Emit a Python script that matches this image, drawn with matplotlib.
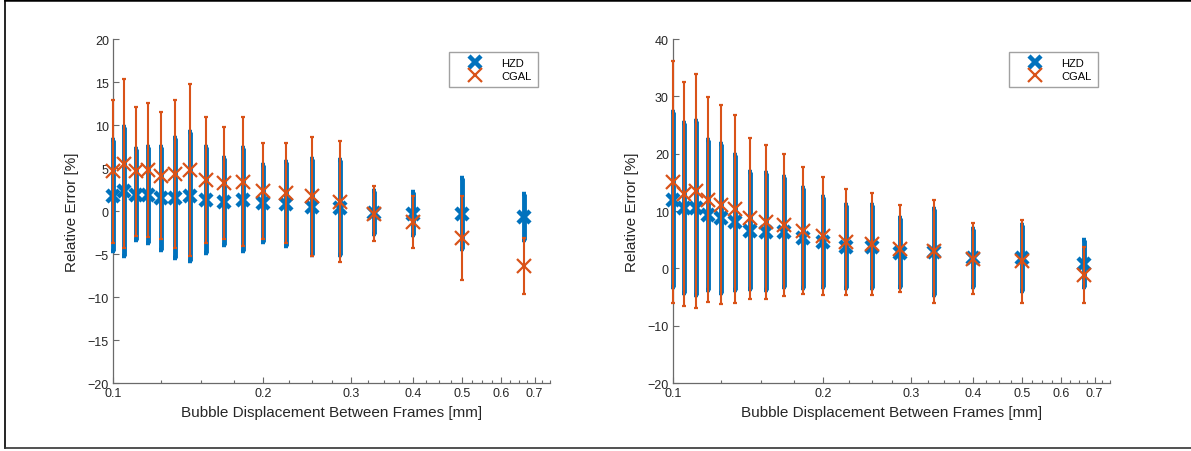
import matplotlib
matplotlib.use("Agg")
import matplotlib.pyplot as plt
from matplotlib.lines import Line2D
from matplotlib.ticker import FixedLocator, NullFormatter
import numpy as np

plt.rcParams['font.family'] = ['Liberation Sans', 'DejaVu Sans']

# bubble displacement between frames [mm]
disp = [0.1, 0.10526, 0.11111, 0.11765, 0.125, 0.13333, 0.14286, 0.15385, 0.16667,
        0.18182, 0.2, 0.22222, 0.25, 0.28571, 0.33333, 0.4, 0.5, 0.66667]

# left panel: mean relative error and spread [%]
hzd_left = [1.8, 2.3, 1.9, 1.9, 1.5, 1.5, 1.7, 1.3, 1.1, 1.3, 0.9, 0.8, 0.5, 0.4, -0.2, -0.3, -0.3, -0.7]
hzd_left_err = [6.4, 7.5, 5.3, 5.6, 6.0, 7.0, 7.5, 6.2, 5.1, 6.0, 4.5, 4.9, 5.6, 5.5, 2.5, 2.5, 4.1, 2.7]
cgal_left = [4.6, 5.5, 4.6, 4.8, 4.1, 4.3, 4.8, 3.6, 3.3, 3.4, 2.3, 2.1, 1.7, 1.1, -0.3, -1.3, -3.1, -6.4]
cgal_left_err = [8.3, 9.8, 7.5, 7.8, 7.4, 8.6, 10.0, 7.3, 6.5, 7.5, 5.6, 5.8, 6.9, 7.0, 3.2, 3.0, 4.9, 3.3]

# right panel
hzd_right = [12.0, 10.5, 10.5, 9.3, 8.7, 8.0, 6.6, 6.4, 6.3, 5.3, 4.6, 3.8, 3.8, 2.7, 2.9, 1.8, 1.8, 0.8]
hzd_right_err = [15.2, 14.8, 15.2, 13.1, 13.0, 11.8, 10.2, 10.2, 9.6, 8.8, 7.9, 7.2, 7.2, 6.0, 7.5, 5.1, 5.8, 4.1]
cgal_right = [15.1, 13.0, 13.5, 12.0, 11.1, 10.3, 8.7, 8.1, 7.6, 6.6, 5.7, 4.6, 4.3, 3.4, 3.0, 1.7, 1.2, -1.2]
cgal_right_err = [21.1, 19.5, 20.4, 17.8, 17.4, 16.4, 14.0, 13.4, 12.4, 11.1, 10.3, 9.3, 8.9, 7.6, 9.0, 6.2, 7.2, 4.9]

xticks = [0.1, 0.2, 0.3, 0.4, 0.5, 0.6, 0.7]
xminor = [0.125, 0.15, 0.175, 0.225, 0.25, 0.275, 0.325, 0.35, 0.375, 0.425, 0.45, 0.475,
          0.525, 0.55, 0.575, 0.625, 0.65, 0.675, 0.725, 0.75]

blue = '#0072BD'
orange = '#D95319'
axcol = '#6a6a6a'
txtcol = '#262626'

fig = plt.figure(figsize=(11.91, 4.52), dpi=100)


def draw_panel(rect, hzd, hzd_err, cgal, cgal_err, ylim, yticks):
    ax = fig.add_axes(rect)
    eb1 = ax.errorbar(disp, hzd, yerr=hzd_err, fmt='x', color=blue, ecolor=blue,
                      elinewidth=3.5, capsize=1.2, capthick=3.5, markersize=9, mew=3.2, zorder=2)
    eb2 = ax.errorbar(disp, cgal, yerr=cgal_err, fmt='x', color=orange, ecolor=orange,
                      elinewidth=1.5, capsize=1.2, capthick=1.5, markersize=10, mew=1.6, zorder=3)
    for eb in (eb1, eb2):
        for art in eb.get_children():
            art.set_clip_on(False)
    ax.set_xscale('log')
    ax.set_xlim(0.1, 0.75)
    ax.set_ylim(*ylim)
    ax.xaxis.set_major_locator(FixedLocator(xticks))
    ax.set_xticklabels([f'{t:g}' for t in xticks])
    ax.xaxis.set_minor_locator(FixedLocator(xminor))
    ax.xaxis.set_minor_formatter(NullFormatter())
    ax.set_yticks(yticks)
    for s in ['top', 'right']:
        ax.spines[s].set_visible(False)
    for s in ['left', 'bottom']:
        ax.spines[s].set_color(axcol)
        ax.spines[s].set_linewidth(0.9)
        ax.spines[s].set_zorder(1)
    ax.tick_params(which='major', direction='in', length=4, width=0.8, color=axcol,
                   labelsize=9, labelcolor=txtcol, pad=3)
    ax.tick_params(which='minor', direction='in', length=2.5, width=0.8, color=axcol)
    ax.set_xlabel('Bubble Displacement Between Frames [mm]', fontsize=11, color=txtcol, labelpad=4)
    ax.set_ylabel('Relative Error [%]', fontsize=11, color=txtcol, labelpad=6)
    handles = [Line2D([], [], ls='none', marker='x', color=blue, markersize=9, mew=3.2),
               Line2D([], [], ls='none', marker='x', color=orange, markersize=10, mew=1.6)]
    leg = ax.legend(handles, ['HZD', 'CGAL'], loc='upper right', bbox_to_anchor=(0.973, 0.963),
                    fontsize=8, frameon=True, fancybox=False, handlelength=3.6,
                    handletextpad=0.6, borderpad=0.55, labelspacing=0.3, borderaxespad=0)
    leg.get_frame().set_edgecolor('#8a8a8a')
    leg.get_frame().set_linewidth(1.0)
    leg.set_zorder(5)
    return ax


draw_panel([0.0949, 0.1504, 0.3665, 0.7611], hzd_left, hzd_left_err, cgal_left, cgal_left_err,
           (-20, 20), np.arange(-20, 21, 5))
draw_panel([0.5651, 0.1504, 0.3665, 0.7611], hzd_right, hzd_right_err, cgal_right, cgal_right_err,
           (-20, 40), np.arange(-20, 41, 10))

# figure frame
W, H = 1191.0, 452.0
fig.add_artist(Line2D([5 / W, 5 / W], [3 / H, 1], color='black', lw=1.2, transform=fig.transFigure))
fig.add_artist(Line2D([5 / W, 1], [1 - 0.8 / H, 1 - 0.8 / H], color='black', lw=1.8, transform=fig.transFigure))
fig.add_artist(Line2D([5 / W, 1], [3 / H, 3 / H], color='#333333', lw=1.2, transform=fig.transFigure))

fig.savefig('out.png', dpi=100)
